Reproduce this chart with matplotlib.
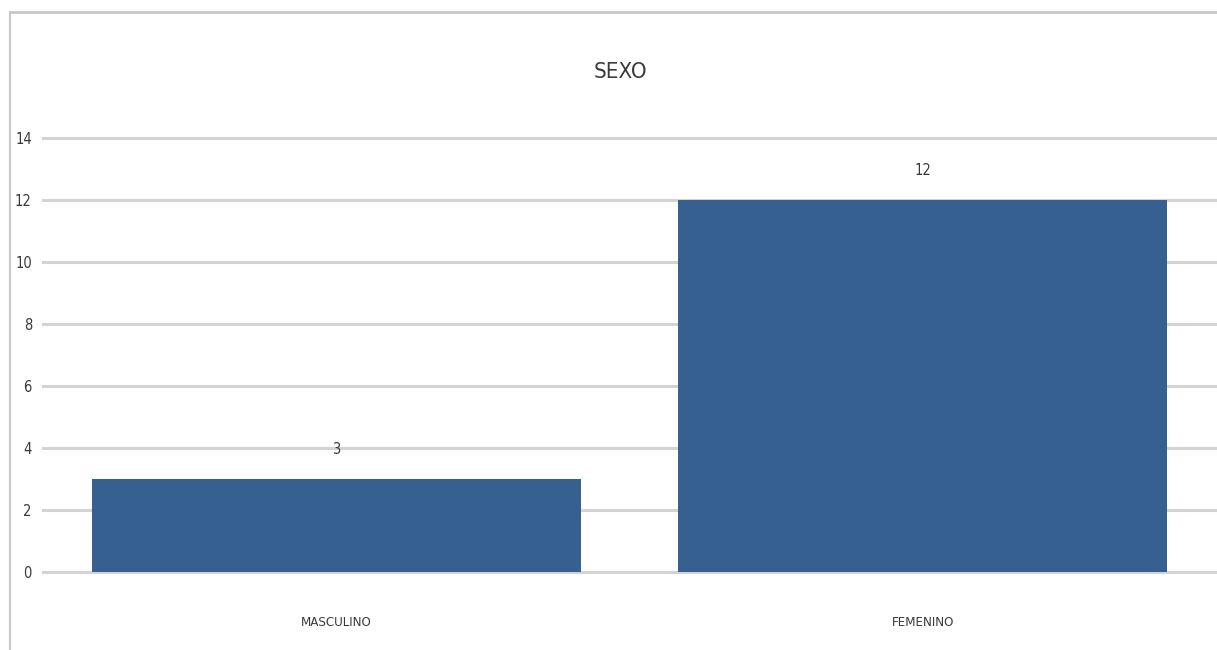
import matplotlib
matplotlib.use("Agg")
import matplotlib.pyplot as plt
from matplotlib.lines import Line2D

# Data
categories = ["MASCULINO", "FEMENINO"]
counts = [3, 12]
y_ticks = [0, 2, 4, 6, 8, 10, 12, 14]
title = "SEXO"

bar_color = "#36608F"
grid_color = "#D3D3D3"
text_color = "#3A3A3A"

plt.rcParams["font.family"] = ["DejaVu Sans"]
plt.rcParams["font.stretch"] = "condensed"

W, H = 1217, 650
fig = plt.figure(figsize=(W / 100, H / 100), dpi=100)
fig.patch.set_facecolor("white")

# Plot area in pixel terms
left, right, top, bottom = 43, 1216, 138, 572
ax = fig.add_axes([left / W, (H - bottom) / H, (right - left) / W, (bottom - top) / H])

x = list(range(len(categories)))
ax.bar(x, counts, width=0.834, color=bar_color, zorder=3)

ax.set_xlim(-0.5, len(categories) - 0.5)
ax.set_ylim(0, 14)
ax.set_yticks(y_ticks)
ax.set_yticklabels([str(t) for t in y_ticks])
ax.set_xticks(x)
ax.set_xticklabels(categories)

ax.yaxis.grid(True, color=grid_color, linewidth=2.2, zorder=0)
for gl in ax.get_ygridlines():
    gl.set_clip_on(False)
ax.set_axisbelow(True)
for s in ax.spines.values():
    s.set_visible(False)

ax.tick_params(axis="y", length=0, pad=8, labelsize=10.5, labelcolor=text_color)
ax.tick_params(axis="x", length=0, pad=32, labelsize=9.5, labelcolor=text_color)

# Value labels above bars
for xi, v in zip(x, counts):
    ax.annotate(str(v), xy=(xi, v), xytext=(0, 21), textcoords="offset points",
                ha="center", va="center", fontsize=10.5, color=text_color)

# Title
fig.text(620 / W, 1 - 72 / H, title, ha="center", va="center",
         fontsize=16, color=text_color)

# Chart frame (top and left edges)
frame_color = "#C8C8C8"
fig.add_artist(Line2D([10 / W, 1.0], [1 - 12 / H, 1 - 12 / H],
                      transform=fig.transFigure, color=frame_color, linewidth=2))
fig.add_artist(Line2D([10 / W, 10 / W], [1 - 12 / H, 0.0],
                      transform=fig.transFigure, color=frame_color, linewidth=1.5))

fig.savefig("out.png", dpi=100)
